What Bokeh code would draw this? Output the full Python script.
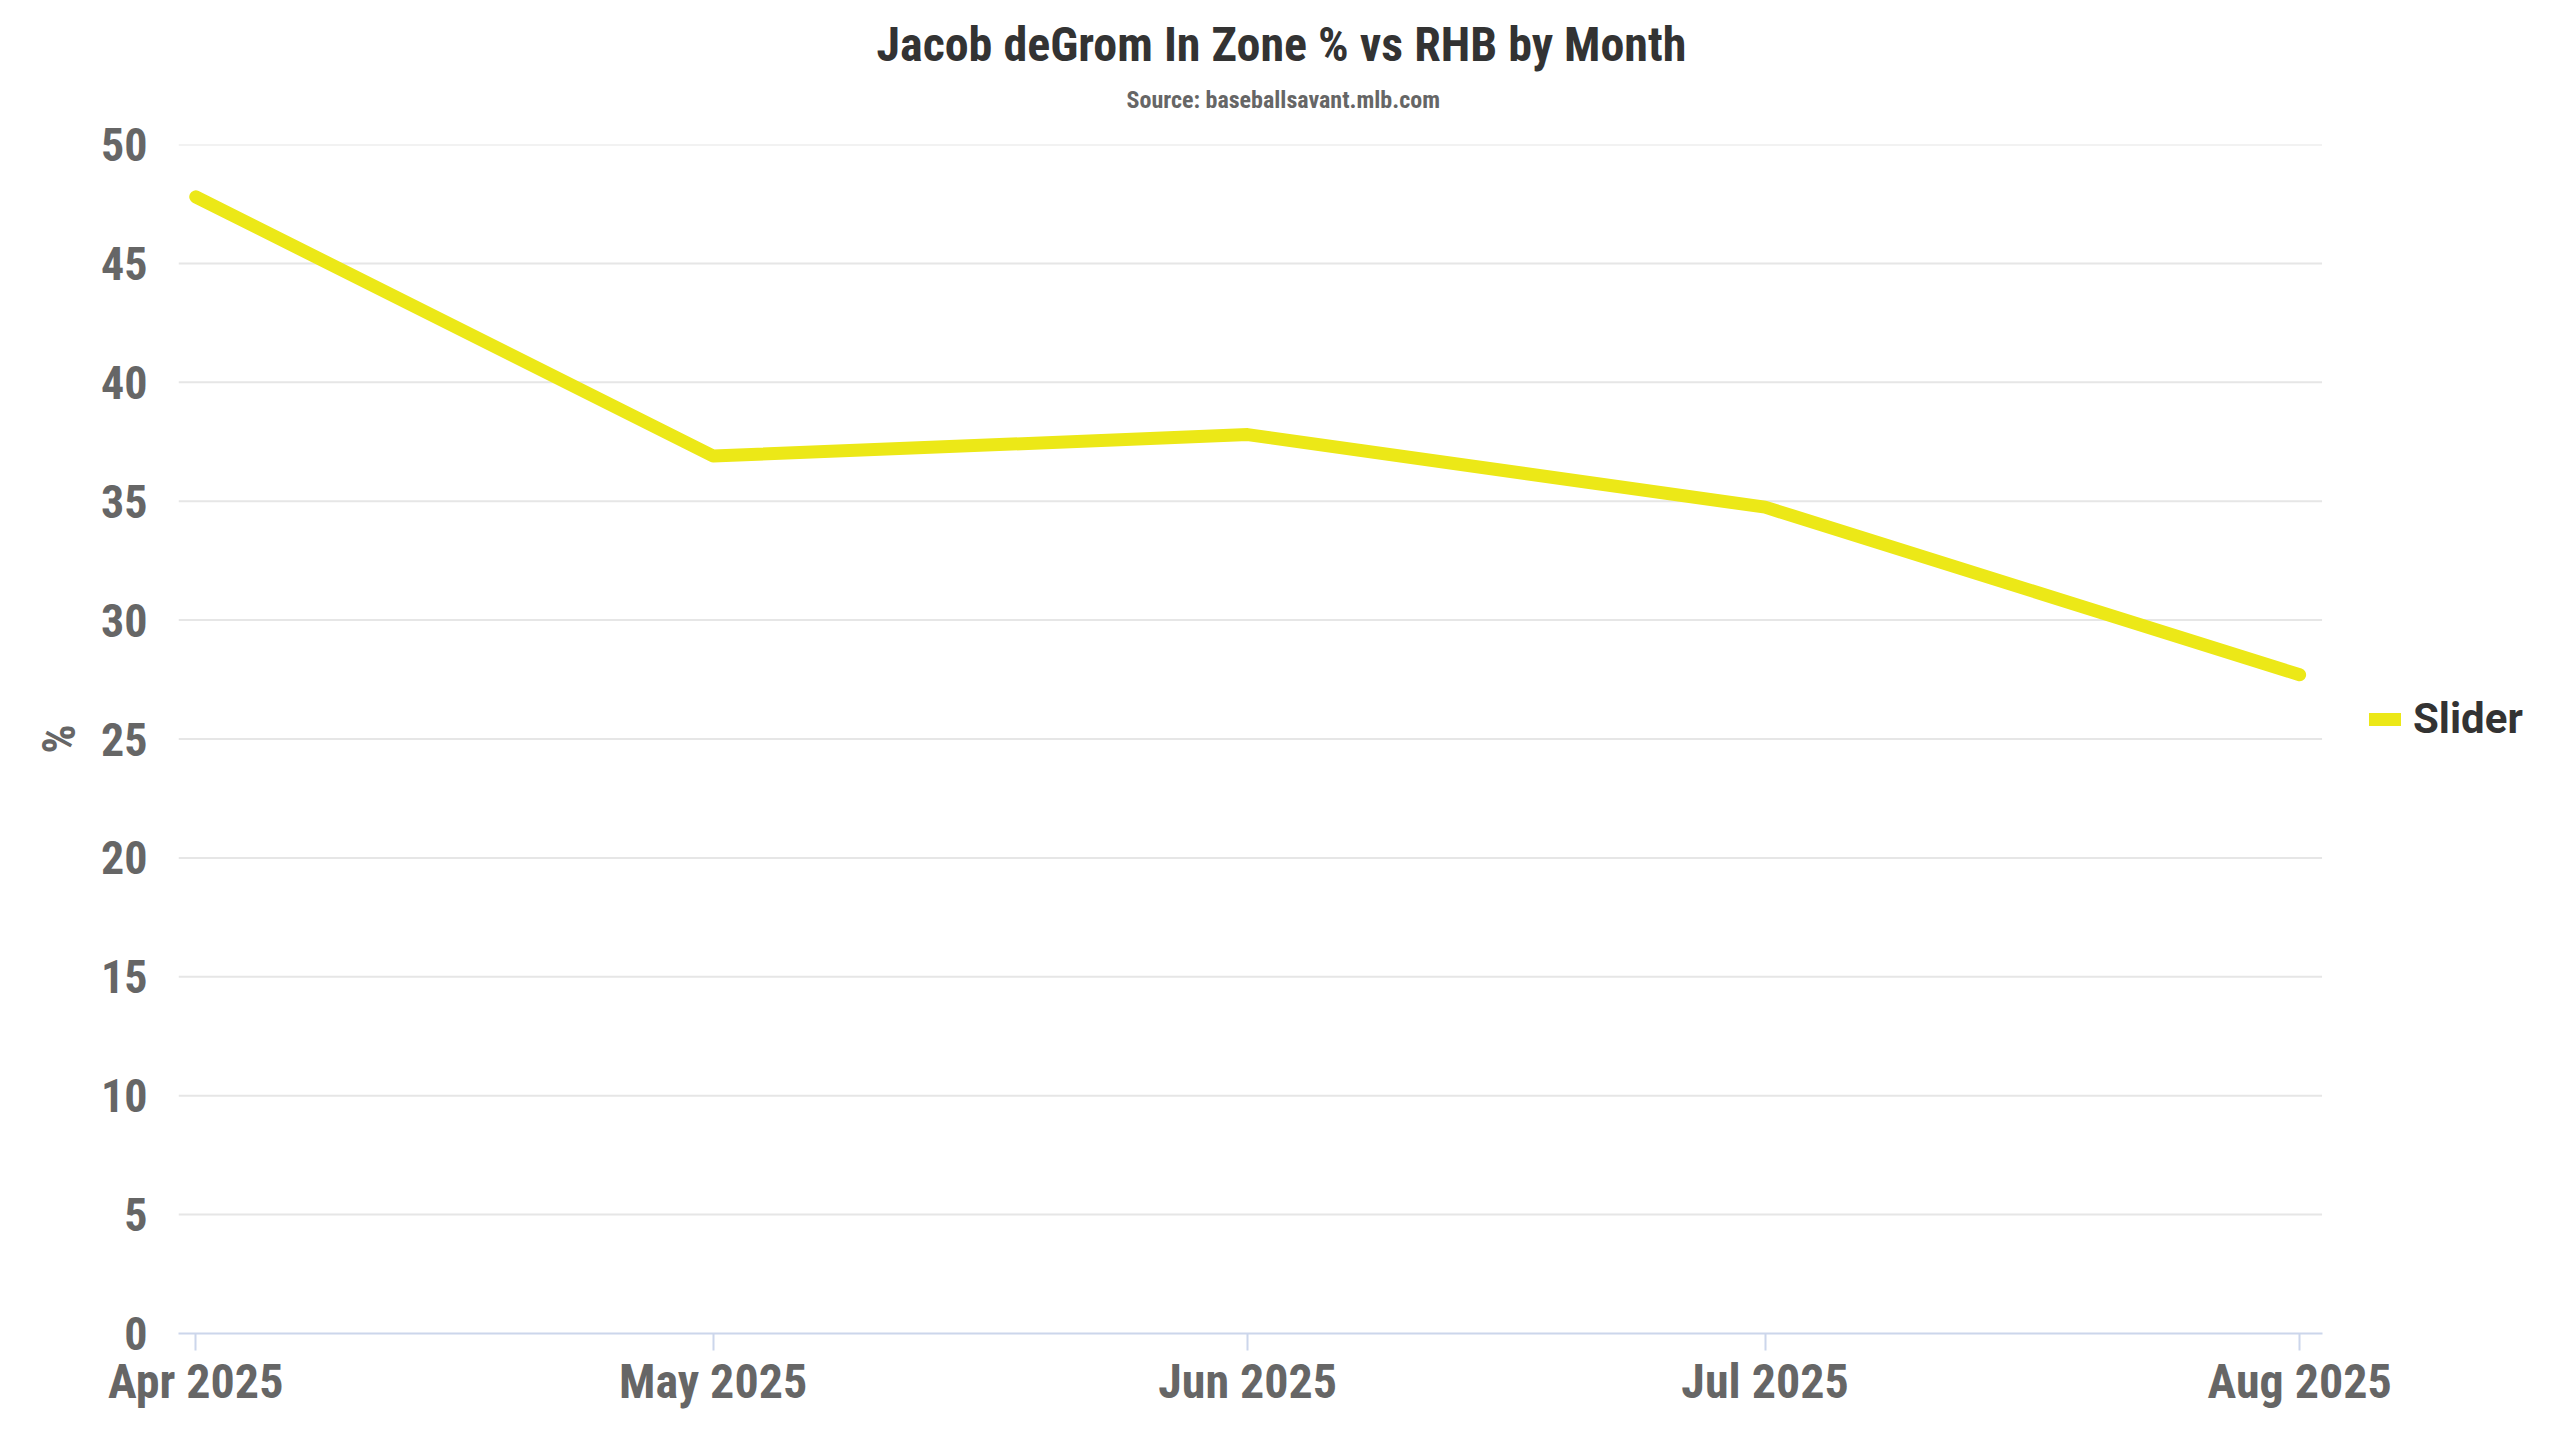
import pandas as pd
from bokeh.plotting import figure
from bokeh.models import (Range1d, Title, Legend, LegendItem, MonthsTicker,
                          DatetimeTickFormatter, SingleIntervalTicker, ColumnDataSource)
from bokeh.embed import file_html
from bokeh.resources import INLINE

# ---- data ----
months = ["2025-04-01", "2025-05-01", "2025-06-01", "2025-07-01", "2025-08-01"]
slider_in_zone = [47.8, 36.9, 37.8, 34.75, 27.7]
series_name = "Slider"
title_text = "Jacob deGrom In Zone % vs RHB by Month"
subtitle_text = "Source: baseballsavant.mlb.com"
y_label = "%"
y_ticks = list(range(0, 55, 5))

dates = pd.to_datetime(months)
src = ColumnDataSource(dict(x=dates, y=slider_in_zone))

COND = "'Roboto Condensed', 'Liberation Sans Narrow', 'Arial Narrow', Roboto"

axis_start = dates[0] - pd.Timedelta(days=1)
axis_end = dates[-1] + pd.Timedelta(days=1.3)
# the frame is extended to the right so the legend can live inside it
view_end = dates[-1] + pd.Timedelta(days=14.2)

p = figure(width=2544, height=1424, output_backend="svg", toolbar_location=None,
           x_axis_type="datetime",
           x_range=Range1d(axis_start, view_end),
           y_range=Range1d(0, 50),
           min_border_left=178, min_border_right=0, min_border_top=144, min_border_bottom=91)
p.title = None
p.outline_line_color = None
p.background_fill_color = "white"
p.border_fill_color = "white"

# titles (subtitle added first -> closest to frame)
sub = Title(text=subtitle_text, align="left", offset=948, text_font=COND,
            text_font_size="24px", text_font_style="bold", text_color="#666666", standoff=62)
p.add_layout(sub, "above")
ttl = Title(text=title_text, align="left", offset=698, text_font=COND,
            text_font_size="48px", text_font_style="bold", text_color="#333333", standoff=-40)
p.add_layout(ttl, "above")

# horizontal grid lines, limited to the axis extent
grid_src = ColumnDataSource(dict(x0=[axis_start] * (len(y_ticks) - 1),
                                 x1=[axis_end] * (len(y_ticks) - 1),
                                 y=y_ticks[1:]))
p.segment(x0="x0", x1="x1", y0="y", y1="y", source=grid_src,
          line_color="#e6e6e6", line_width=2, level="underlay")

r = p.line("x", "y", source=src, line_color="#ECE817", line_width=13,
           line_cap="round", line_join="round")

# x axis
xa = p.xaxis[0]
xa.bounds = (axis_start, axis_end)
xa.ticker = MonthsTicker(months=list(range(12)))
xa.formatter = DatetimeTickFormatter(months="%b %Y", days="%b %Y")
xa.axis_line_color = "#ccd6eb"
xa.axis_line_width = 2
xa.major_tick_line_color = "#ccd6eb"
xa.major_tick_line_width = 2
xa.major_tick_out = 17
xa.major_tick_in = 0
xa.minor_tick_line_color = None
xa.major_label_standoff = 2
xa.major_label_text_font = COND
xa.major_label_text_font_size = "48px"
xa.major_label_text_font_style = "bold"
xa.major_label_text_color = "#666666"

# y axis
ya = p.yaxis[0]
ya.ticker = SingleIntervalTicker(interval=5)
ya.axis_line_color = None
ya.major_tick_line_color = None
ya.minor_tick_line_color = None
ya.major_tick_out = 0
ya.major_tick_in = 0
ya.major_label_standoff = 27
ya.major_label_text_font = COND
ya.major_label_text_font_size = "46px"
ya.major_label_text_font_style = "bold"
ya.major_label_text_color = "#666666"
ya.axis_label = y_label
ya.axis_label_standoff = 12
ya.axis_label_text_font = COND
ya.axis_label_text_font_size = "46px"
ya.axis_label_text_font_style = "bold"
ya.axis_label_text_color = "#666666"

p.xgrid.grid_line_color = None
p.ygrid.grid_line_color = None

legend = Legend(items=[LegendItem(label=series_name, renderers=[r])],
                location=(2191, 590), orientation="vertical",
                border_line_color=None, background_fill_alpha=0,
                margin=0, padding=0, glyph_width=32, glyph_height=30,
                label_standoff=12, label_text_font="Roboto", label_text_font_style="bold",
                label_text_font_size="42px", label_text_color="#333333")
p.add_layout(legend, "center")

open("out.html", "w").write(file_html(p, INLINE))
